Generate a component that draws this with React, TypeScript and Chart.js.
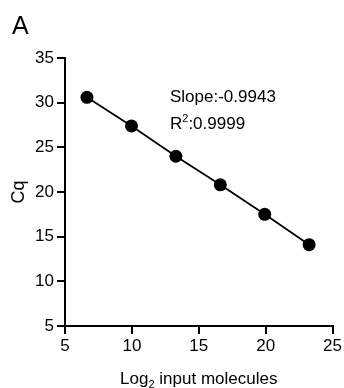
import React, { useEffect, useRef } from "react";
import { Chart, registerables } from "chart.js";

Chart.register(...registerables);

const log2Input = [6.64, 9.97, 13.29, 16.61, 19.93, 23.25];
const cqValues = [30.6, 27.4, 24.0, 20.8, 17.5, 14.1];
const panelLabel = "A";
const slopeText = "Slope:-0.9943";
const r2Value = ":0.9999";
const yTitle = "Cq";

const FONT = "'Liberation Sans', Arial, sans-serif";

const textPlugin = {
  id: "textPlugin",
  afterDraw(chart: any) {
    const ctx = chart.ctx;
    ctx.save();
    ctx.fillStyle = "#000";
    ctx.textBaseline = "alphabetic";
    ctx.textAlign = "left";
    ctx.font = `25px ${FONT}`;
    ctx.fillText(panelLabel, 12, 34);

    ctx.font = `17px ${FONT}`;
    ctx.fillText(slopeText, 170, 102);
    // R²
    let x = 170;
    ctx.fillText("R", x, 129);
    x += ctx.measureText("R").width;
    ctx.font = `11px ${FONT}`;
    ctx.fillText("2", x, 122);
    x += ctx.measureText("2").width;
    ctx.font = `17px ${FONT}`;
    ctx.fillText(r2Value, x, 129);

    // x title with subscript
    const p1 = "Log";
    const p2 = "2";
    const p3 = " input molecules";
    ctx.font = `17px ${FONT}`;
    const w1 = ctx.measureText(p1).width;
    const w3 = ctx.measureText(p3).width;
    ctx.font = `11px ${FONT}`;
    const w2 = ctx.measureText(p2).width;
    const area = chart.chartArea;
    const cx = (area.left + area.right) / 2;
    let sx = cx - (w1 + w2 + w3) / 2;
    ctx.font = `17px ${FONT}`;
    ctx.fillText(p1, sx, 384);
    sx += w1;
    ctx.font = `11px ${FONT}`;
    ctx.fillText(p2, sx, 388);
    sx += w2;
    ctx.font = `17px ${FONT}`;
    ctx.fillText(p3, sx, 384);

    // y title
    ctx.translate(24, (area.top + area.bottom) / 2);
    ctx.rotate(-Math.PI / 2);
    ctx.textAlign = "center";
    ctx.font = `18px ${FONT}`;
    ctx.fillText(yTitle, 0, 0);
    ctx.restore();
  },
};

export default function App() {
  const ref = useRef<HTMLCanvasElement | null>(null);
  useEffect(() => {
    if (!ref.current) return;
    const chart = new Chart(ref.current, {
      type: "scatter",
      data: {
        datasets: [
          {
            data: log2Input.map((x, i) => ({ x, y: cqValues[i] })),
            showLine: true,
            borderColor: "#000",
            borderWidth: 1.8,
            backgroundColor: "#000",
            pointBackgroundColor: "#000",
            pointBorderColor: "#000",
            pointRadius: 6.5,
            pointBorderWidth: 0,
          },
        ],
      },
      options: {
        animation: false,
        responsive: true,
        maintainAspectRatio: false,
        layout: { padding: { top: 58, right: 11, left: 0, bottom: 0 } },
        plugins: { legend: { display: false }, tooltip: { enabled: false } },
        scales: {
          x: {
            type: "linear",
            min: 5,
            max: 25,
            ticks: {
              stepSize: 5,
              color: "#000",
              font: { family: FONT, size: 17 },
              padding: 2,
              maxRotation: 0,
            },
            grid: {
              drawOnChartArea: false,
              drawTicks: true,
              tickLength: 8,
              color: "#000",
              lineWidth: 2,
            },
            border: { display: true, color: "#000", width: 2 },
            afterFit: (s: any) => {
              s.height = 62;
            },
          },
          y: {
            type: "linear",
            min: 5,
            max: 35,
            ticks: {
              stepSize: 5,
              color: "#000",
              font: { family: FONT, size: 17 },
              padding: 3,
            },
            grid: {
              drawOnChartArea: false,
              drawTicks: true,
              tickLength: 8,
              color: "#000",
              lineWidth: 2,
            },
            border: { display: true, color: "#000", width: 2 },
            afterFit: (s: any) => {
              s.width = 65;
            },
          },
        },
      },
      plugins: [textPlugin],
    });
    return () => chart.destroy();
  }, []);
  return (
    <div style={{ position: "absolute", left: 0, top: 0, width: 344, height: 388, background: "#fff" }}>
      <canvas ref={ref} />
    </div>
  );
}
